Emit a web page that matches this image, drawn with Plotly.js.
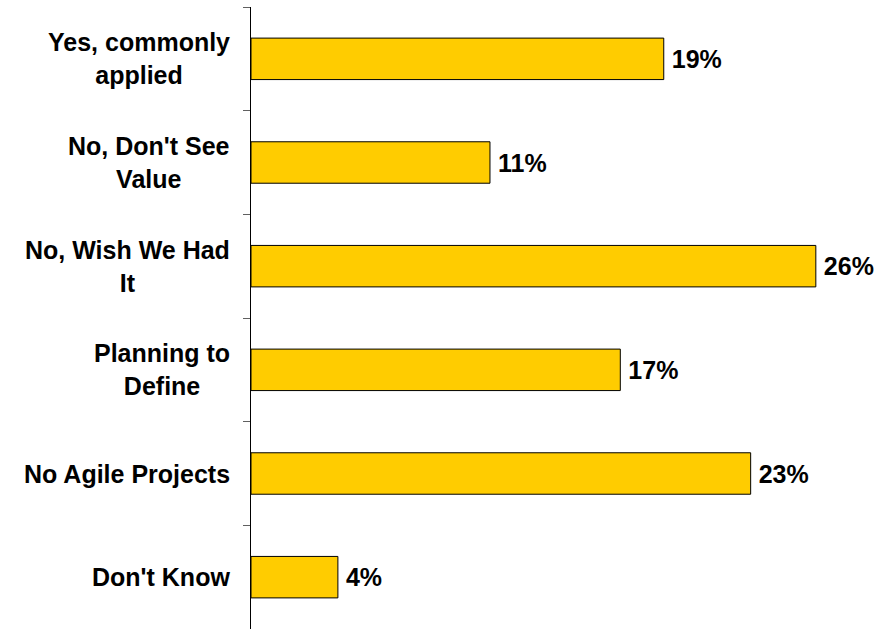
<!DOCTYPE html>
<html>
<head>
<meta charset="utf-8">
<script src="https://cdn.plot.ly/plotly-3.0.1.min.js"></script>
<style>html,body{margin:0;padding:0;background:#fff;}#chart{width:888px;height:629px;}</style>
</head>
<body>
<div id="chart"></div>
<script>
const categories = ["Yes, commonly applied", "No, Don't See Value", "No, Wish We Had It", "Planning to Define", "No Agile Projects", "Don't Know"];
const categoryLabels = ["Yes, commonly<br>applied", "No, Don't See<br>Value", "No, Wish We Had<br>It", "Planning to<br>Define", "No Agile Projects", "Don't Know"];
const values = [19, 11, 26, 17, 23, 4];

const FONT = "Liberation Sans, Arial, sans-serif";

const trace = {
  type: 'bar',
  orientation: 'h',
  y: categories,
  x: values,
  width: 0.4,
  marker: {color: '#FFCC00', line: {color: '#000000', width: 1}},
  texttemplate: '\u2009<b>%{x}%</b>',
  textposition: 'outside',
  constraintext: 'none',
  cliponaxis: false,
  textfont: {family: FONT, size: 25, color: '#000000'},
  hoverinfo: 'none'
};

const annotations = categories.map((c, i) => ({
  xref: 'paper', yref: 'y',
  x: -0.030, y: c,
  xanchor: 'right', yanchor: 'middle',
  align: 'center',
  text: '<b>' + categoryLabels[i] + '</b>',
  showarrow: false,
  font: {family: FONT, size: 25, color: '#000000'}
}));

const layout = {
  width: 888, height: 629,
  margin: {l: 251, r: 7, t: 7, b: 0, pad: 0},
  paper_bgcolor: '#ffffff', plot_bgcolor: '#ffffff',
  showlegend: false,
  font: {family: FONT, size: 25, color: '#000000'},
  xaxis: {range: [0, 29], visible: false, showgrid: false, zeroline: false, fixedrange: true},
  yaxis: {
    type: 'category',
    autorange: 'reversed',
    showline: true, linecolor: '#000000', linewidth: 1,
    ticks: 'outside', tickson: 'boundaries', ticklen: 7, tickcolor: '#606060', tickwidth: 1,
    showticklabels: false, showgrid: false, zeroline: false
  },
  annotations: annotations
};

Plotly.newPlot('chart', [trace], layout, {displayModeBar: false, staticPlot: true});
</script>
</body>
</html>
